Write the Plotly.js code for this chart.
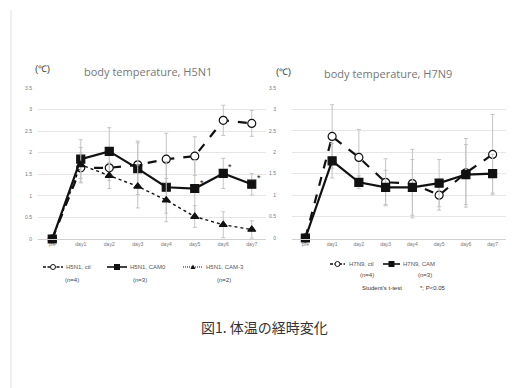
<!DOCTYPE html>
<html><head><meta charset="utf-8">
<script src="https://cdn.plot.ly/plotly-3.0.1.min.js"></script>
<style>body{margin:0;background:#fff}#c{width:512px;height:388px}</style>
</head><body><div id="c"></div>
<script>
const days = ['pre','day1','day2','day3','day4','day5','day6','day7'];
const h5ctl = [0, 1.65, 1.65, 1.72, 1.85, 1.92, 2.75, 2.68];
const h5ctlErr = [0, 0.35, 0.3, 0.55, 0.6, 0.45, 0.35, 0.3];
const h5cam0 = [0, 1.85, 2.03, 1.63, 1.2, 1.17, 1.52, 1.27];
const h5cam0Err = [0, 0.45, 0.55, 0.6, 0.6, 0.65, 0.35, 0.25];
const h5cam3 = [0, 1.72, 1.47, 1.22, 0.9, 0.52, 0.33, 0.22];
const h5cam3Err = [0, 0.4, 0.3, 0.5, 0.5, 0.25, 0.3, 0.2];
const h7ctl = [0, 2.37, 1.88, 1.3, 1.27, 1.0, 1.52, 1.95];
const h7ctlErr = [0, 0.74, 0.65, 0.55, 0.8, 0.35, 0.8, 0.93];
const h7cam = [0, 1.8, 1.3, 1.18, 1.18, 1.28, 1.48, 1.5];
const h7camErr = [0, 0.4, 0.15, 0.4, 0.65, 0.55, 0.7, 0.45];
const sigDays = ['day5','day6','day7'];
const yTicks = [0, 0.5, 1, 1.5, 2, 2.5, 3, 3.5];
const yTickText = ['0','0.5','1','1.5','2','2.5','3','3.5'];
const seriesNames = ['H5N1, ctl','H5N1, CAM0','H5N1, CAM-3','H7N9, ctl','H7N9, CAM'];
const nLabels = ['(n=4)','(n=3)','(n=2)','(n=4)','(n=3)'];

const eb = arr => ({type:'data', array:arr, visible:true, color:'#c4c4c4', thickness:1, width:2});
function tr(y, err, name, sym, dash, lw, ax, fill){
  return {x:days, y:y, name:name, type:'scatter', mode:'lines+markers', showlegend:false,
    xaxis:ax[0], yaxis:ax[1], error_y:eb(err), cliponaxis:false,
    line:{color:'#111', width:lw, dash:dash},
    marker:{symbol:sym, size: sym==='triangle-up'?7:8, color:fill, line:{color:'#111', width:1.2}}};
}
const data = [
  tr(h5ctl, h5ctlErr, seriesNames[0], 'circle', 'dash', 2.2, ['x','y'], '#fff'),
  tr(h5cam0, h5cam0Err, seriesNames[1], 'square', 'solid', 2.2, ['x','y'], '#111'),
  tr(h5cam3, h5cam3Err, seriesNames[2], 'triangle-up', 'dot', 1.4, ['x','y'], '#111'),
  tr(h7ctl, h7ctlErr, seriesNames[3], 'circle', 'dash', 2.2, ['x2','y2'], '#fff'),
  tr(h7cam, h7camErr, seriesNames[4], 'square', 'solid', 2.2, ['x2','y2'], '#111')
];

const axFont = {family:'Liberation Sans, Arial', size:5, color:'#777'};
function xa(dom){return {domain:dom, type:'category', range:[-0.5,7.5], tickfont:axFont,
  showgrid:false, showline:true, linecolor:'#d0d0d0', linewidth:1, ticks:'', zeroline:false, fixedrange:true};}
function ya(dom, anchor, so){return {domain:dom, anchor:anchor, range:[0,3.5], tickvals:yTicks, ticktext:yTickText,
  tickfont:axFont, gridcolor:'#e6e6e6', gridwidth:1, zeroline:false, showline:false, ticks:'', ticklabelstandoff:so};}

// pixel-positioned page texts
const ann = [];
const P = (text, x, y, font, xanchor) => ann.push({text:text, x:x/512, y:1-y/388, xref:'paper', yref:'paper',
  xanchor:xanchor||'center', yanchor:'middle', showarrow:false, font:font});
const tf = {family:'Open Sans, Liberation Sans', size:11, color:'#777'};
P('body temperature, H5N1', 148, 71, tf);
P('body temperature, H7N9', 388, 73, tf);
const cf = {family:'Liberation Sans', size:9, color:'#333'};
P('(℃)', 42, 69, cf);
P('(℃)', 283, 72, cf);
const legFont = {family:'Liberation Sans', size:6, color:'#555'};
const nf = {family:'Liberation Sans', size:6, color:'#444'};
// legend entries: [lineStart, lineEnd, y, textX, nX, nY]
const legPos = [[43,63,267,64,72,280],[107,127,267,128,140,280],[183,203,267,204,224,280],
                [330,345,264,347,367,275],[383,400,264,401,425,275]];
const legSym = ['circle','square','triangle','circle','square'];
const legDash = ['dash','solid','dot','dash','solid'];
const shapes = [{type:'line', xref:'paper', yref:'paper', x0:11/512, x1:11/512, y0:0, y1:1-10/388, line:{color:'#e0e0e0', width:1}}];
const px = v => v/512, py = v => 1-v/388;
legPos.forEach((p,i)=>{
  P(seriesNames[i], p[3], p[2], legFont, 'left');
  P(nLabels[i], p[4], p[5], nf);
  shapes.push({type:'line', xref:'paper', yref:'paper', x0:px(p[0]), x1:px(p[1]), y0:py(p[2]), y1:py(p[2]),
    line:{color:'#111', width: legDash[i]==='dot'?1:1.6, dash: legDash[i]==='dash'?'3px,1.5px':(legDash[i]==='dot'?'1px,1px':'solid')}});
  const cx = (p[0]+p[1])/2, cy = p[2];
  if(legSym[i]==='circle') shapes.push({type:'circle', xref:'paper', yref:'paper', x0:px(cx-2.5), x1:px(cx+2.5), y0:py(cy+2.5), y1:py(cy-2.5), fillcolor:'#fff', line:{color:'#111', width:1}});
  else if(legSym[i]==='square') shapes.push({type:'rect', xref:'paper', yref:'paper', x0:px(cx-3), x1:px(cx+3), y0:py(cy+3), y1:py(cy-3), fillcolor:'#111', line:{color:'#111', width:0}});
  else shapes.push({type:'path', xref:'paper', yref:'paper', path:`M ${px(cx-2.5)} ${py(cy+2)} L ${px(cx+2.5)} ${py(cy+2)} L ${px(cx)} ${py(cy-2.5)} Z`, fillcolor:'#111', line:{color:'#111', width:0}});
});
P('Student\'s t-test', 382, 288, {family:'Liberation Sans', size:6, color:'#333'});
P('*; P<0.05', 433, 288, {family:'Liberation Sans', size:6, color:'#333'});
P('図1. 体温の経時変化', 264, 327, {family:'Noto Sans CJK JP', size:14, color:'#333'});
sigDays.forEach(d=>{
  const i = days.indexOf(d);
  ann.push({text:'*', x:d, y:h5cam0[i], xref:'x', yref:'y', showarrow:false, xshift:7, yshift:6,
    font:{family:'Liberation Sans', size:9, color:'#111'}});
});

const layout = {
  width:512, height:388, margin:{l:0,r:0,t:0,b:0}, paper_bgcolor:'#fff', plot_bgcolor:'#fff',
  xaxis:xa([38/512, 266/512]), yaxis:ya([1-239/388, 1-88/388], 'x', 5),
  xaxis2:xa([292/512, 506/512]), yaxis2:ya([1-238/388, 1-88/388], 'x2', 15),
  annotations:ann, shapes:shapes, showlegend:false
};
Plotly.newPlot('c', data, layout, {displayModeBar:false, staticPlot:true});
</script></body></html>
